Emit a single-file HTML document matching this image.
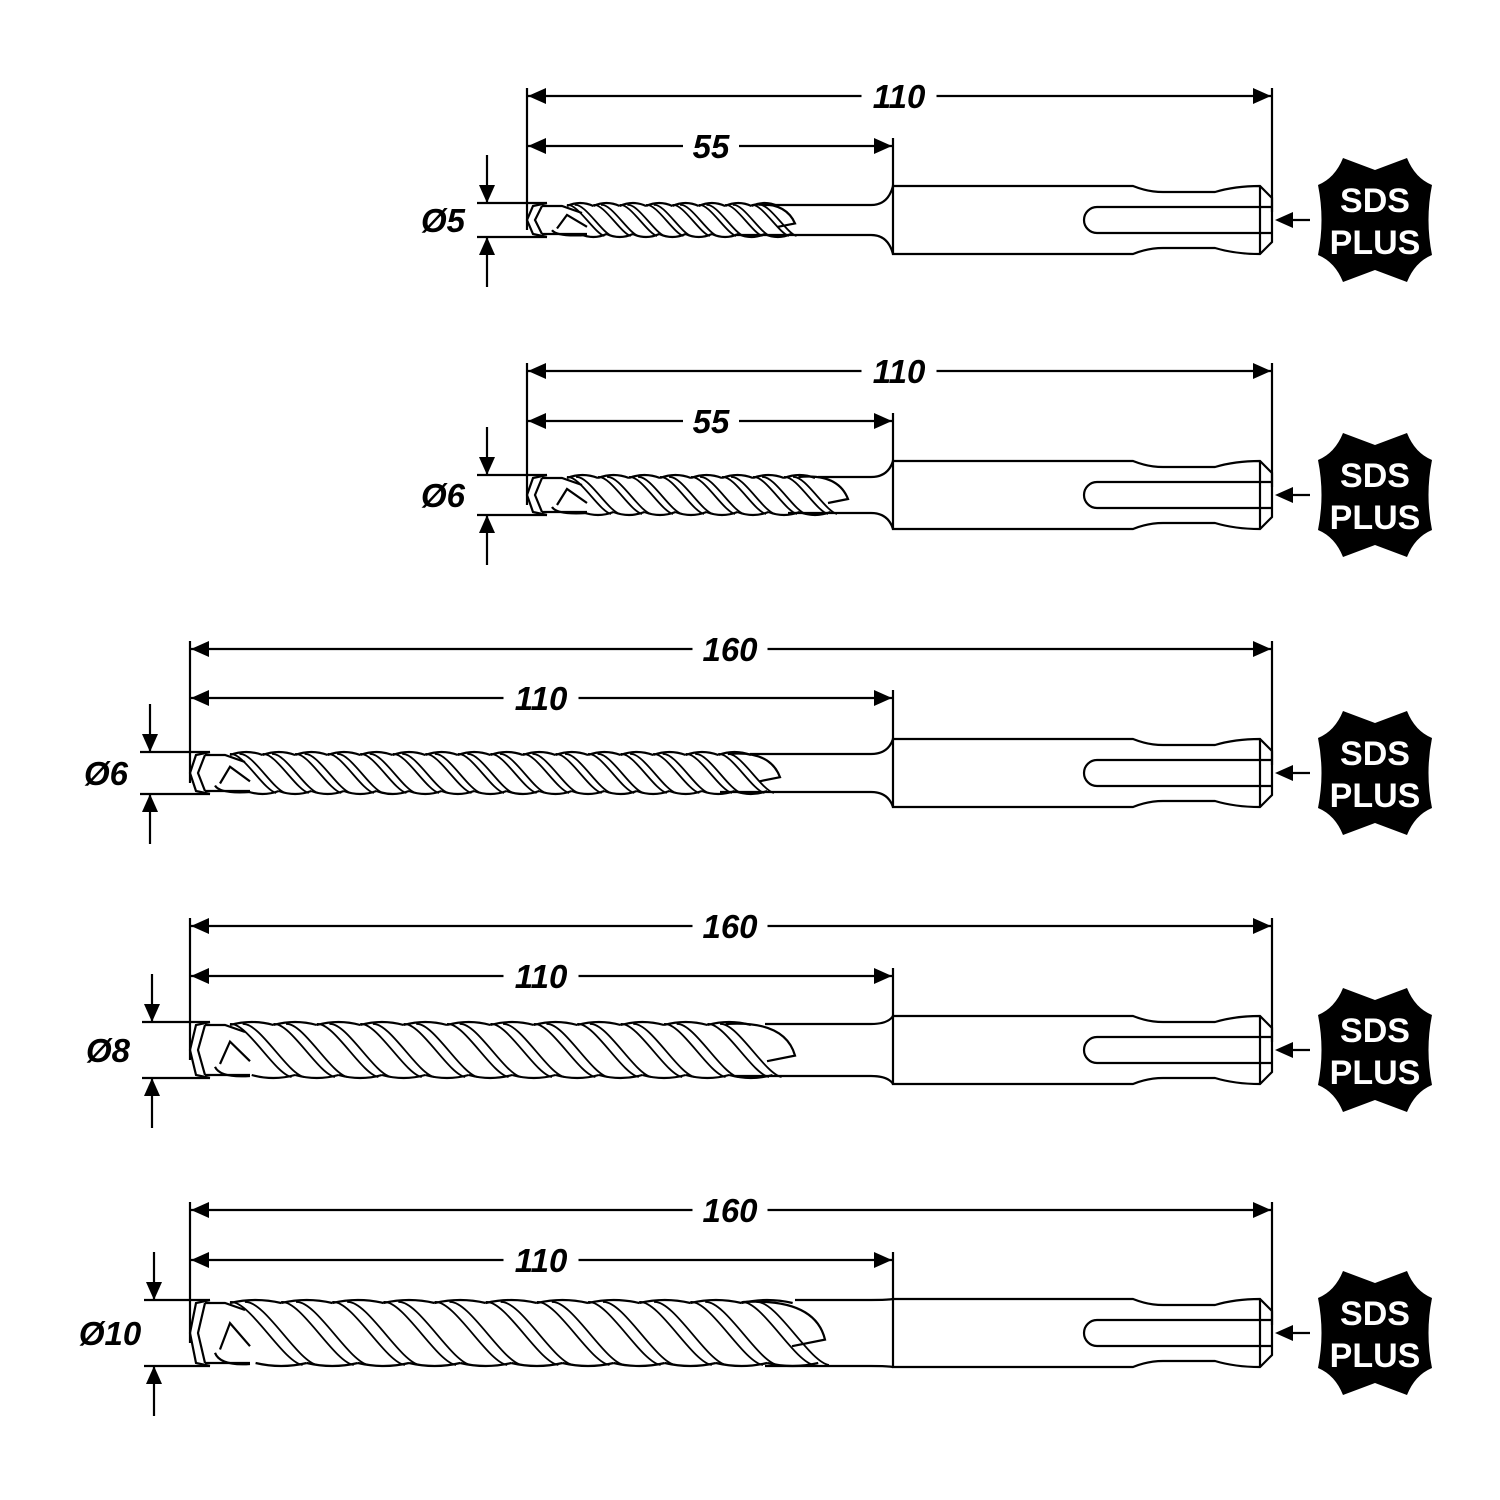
<!DOCTYPE html>
<html><head><meta charset="utf-8"><style>
html,body{margin:0;padding:0;background:#fff}
svg{display:block}
text{font-family:"Liberation Sans",Arial,sans-serif;font-weight:bold}
</style></head><body>
<svg id="s" xmlns="http://www.w3.org/2000/svg" width="1500" height="1500" viewBox="0 0 1500 1500"></svg>
<script>
const s=document.getElementById('s');let h='';
const L='stroke="#000" fill="none" stroke-width="2.2"';
function arrowR(x,y){return `<path d="M${x},${y} l-18,-8 v16 z" fill="#000"/>`;}
function arrowL(x,y){return `<path d="M${x},${y} l18,-8 v16 z" fill="#000"/>`;}
function arrowD(x,y){return `<path d="M${x},${y} l-8,-18 h16 z" fill="#000"/>`;}
function arrowU(x,y){return `<path d="M${x},${y} l-8,18 h16 z" fill="#000"/>`;}
function dim(x1,x2,y,label,tx){
  const w=label.length*19+18;
  h+=`<line x1="${x1}" y1="${y}" x2="${tx-w/2}" y2="${y}" ${L}/><line x1="${tx+w/2}" y1="${y}" x2="${x2}" y2="${y}" ${L}/>`;
  h+=arrowL(x1+1,y)+arrowR(x2-1,y);
  h+=`<text x="${tx}" y="${y+12}" font-size="33" font-style="italic" text-anchor="middle">${label}</text>`;
}
function badge(cx,cy){
  const p=`M${cx-32},${cy-62} L${cx},${cy-50} L${cx+32},${cy-62} Q${cx+40},${cy-42} ${cx+57},${cy-35} Q${cx+50},${cy} ${cx+57},${cy+35} Q${cx+40},${cy+42} ${cx+32},${cy+62} L${cx},${cy+50} L${cx-32},${cy+62} Q${cx-40},${cy+42} ${cx-57},${cy+35} Q${cx-50},${cy} ${cx-57},${cy-35} Q${cx-40},${cy-42} ${cx-32},${cy-62} Z`;
  h+=`<path d="${p}" fill="#000"/>`;
  h+=`<text x="${cx}" y="${cy-8}" font-size="34" fill="#fff" text-anchor="middle">SDS</text>`;
  h+=`<text x="${cx}" y="${cy+34}" font-size="34" fill="#fff" text-anchor="middle">PLUS</text>`;
  h+=`<line x1="${cx-65}" y1="${cy}" x2="${cx-95}" y2="${cy}" ${L}/>`+arrowL(cx-100,cy);
}
function drill(o){
  const {tip,cy,r,fend,longY,shortY,longL,shortL,longTx,shortTx,dx,dtext,neck}=o;
  const top=cy-r,bot=cy+r,S0=893,S1=1260,E=1272,sT=cy-34,sB=cy+34;
  dim(tip,E,longY,longL,longTx);dim(tip,S0,shortY,shortL,shortTx);
  h+=`<line x1="${tip}" y1="${longY-8}" x2="${tip}" y2="${cy+10}" ${L}/>`;
  h+=`<line x1="${E}" y1="${longY-8}" x2="${E}" y2="${cy-8}" ${L}/>`;
  h+=`<line x1="${S0}" y1="${shortY-8}" x2="${S0}" y2="${sT}" ${L}/>`;
  h+=`<line x1="${dx-10}" y1="${top}" x2="${tip+20}" y2="${top}" ${L}/><line x1="${dx-10}" y1="${bot}" x2="${tip+20}" y2="${bot}" ${L}/>`;
  h+=`<line x1="${dx}" y1="${top-48}" x2="${dx}" y2="${top}" ${L}/>`+arrowD(dx,top);
  h+=`<line x1="${dx}" y1="${bot+50}" x2="${dx}" y2="${bot}" ${L}/>`+arrowU(dx,bot);
  h+=`<text x="${dx-44}" y="${cy+12}" font-size="33" font-style="italic" text-anchor="middle">${dtext}</text>`;
  h+=`<path d="M${S0},${sT} H${S0+240} Q${S0+255},${sT+6} ${S0+270},${sT+6} H${S1-45} Q${S1-25},${sT} ${S1},${sT} L${E},${sT+12} V${sB-12} L${S1},${sB} Q${S1-25},${sB} ${S1-45},${sB-6} H${S0+270} Q${S0+255},${sB-6} ${S0+240},${sB} H${S0} Z" ${L}/>`;
  h+=`<line x1="${S1}" y1="${sT}" x2="${S1}" y2="${sB}" ${L}/>`;
  h+=`<path d="M${E},${cy-13} H${1097} A13,13 0 0 0 ${1097},${cy+13} H${E}" ${L}/>`;
  const nT=cy-r+(neck?2:0),nB=cy+r-(neck?2:0);
  h+=`<path d="M${fend-30},${nT} H${S0-22} Q${S0-5},${nT} ${S0},${sT}" ${L}/>`;
  h+=`<path d="M${fend-60},${nB} H${S0-22} Q${S0-5},${nB} ${S0},${sB}" ${L}/>`;
  h+=`<path d="M${tip+20},${top} L${tip+6},${top+3} L${tip},${cy} L${tip+6},${bot-3} L${tip+20},${bot}" ${L}/>`;
  h+=`<path d="M${tip+15},${top+3} L${tip+8},${cy} L${tip+15},${bot-3}" ${L}/>`;
  h+=`<path d="M${tip+15},${top+3} H${tip+35} L${tip+55},${top+10}" ${L}/>`;
  h+=`<path d="M${tip+15},${bot-3} H${tip+60}" ${L}/>`;
  const start=tip+40,pitch=r*3.1;
  // outline bulges
  for(let x=start;x<fend-pitch*0.6;x+=pitch/2){
    h+=`<path d="M${x},${top+3} Q${x+pitch/4},${top-3} ${x+pitch/2},${top+3}" ${L}/>`;
    h+=`<path d="M${x+pitch/4},${bot-3} Q${x+pitch/2},${bot+3} ${x+pitch*0.75},${bot-3}" ${L}/>`;
    for(let k=0;k<2;k++){
      const xx=x+k*r*0.45;
      h+=`<path d="M${xx},${top+2} C${xx+r*0.6},${top} ${xx+r*1.6},${bot-4} ${xx+r*2.2},${bot-1}" stroke="#000" fill="none" stroke-width="1.8"/>`;
    }
  }
  h+=`<path d="M${fend-pitch*0.8},${top+2} Q${fend-10},${top-2} ${fend},${cy+r*0.2} L${fend-r*1},${cy+r*0.4}" ${L}/>`;
  h+=`<path d="M${tip+30},${cy+r*0.5} L${tip+40},${cy-r*0.3} L${tip+60},${cy+r*0.4}" ${L}/>`;
  h+=`<path d="M${tip+25},${cy+r*0.6} Q${tip+30},${bot} ${tip+60},${bot-2}" ${L}/>`;
  badge(1375,cy);
}
drill({tip:527,cy:220,r:17,fend:795,longY:96,shortY:146,longL:'110',shortL:'55',longTx:899,shortTx:711,dx:487,dtext:'Ø5',neck:1});
drill({tip:527,cy:495,r:20,fend:848,longY:371,shortY:421,longL:'110',shortL:'55',longTx:899,shortTx:711,dx:487,dtext:'Ø6',neck:1});
drill({tip:190,cy:773,r:21,fend:780,longY:649,shortY:698,longL:'160',shortL:'110',longTx:730,shortTx:541,dx:150,dtext:'Ø6',neck:1});
drill({tip:190,cy:1050,r:28,fend:795,longY:926,shortY:976,longL:'160',shortL:'110',longTx:730,shortTx:541,dx:152,dtext:'Ø8',neck:1});
drill({tip:190,cy:1333,r:33,fend:825,longY:1210,shortY:1260,longL:'160',shortL:'110',longTx:730,shortTx:541,dx:154,dtext:'Ø10',neck:0});
s.innerHTML=h;
</script>
</body></html>
